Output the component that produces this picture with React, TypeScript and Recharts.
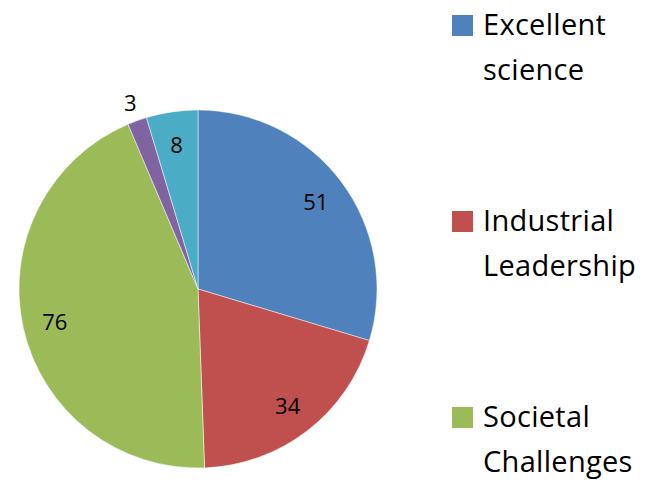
import React from "react";
import { PieChart, Pie, Cell, Legend } from "recharts";

const categories = [
  "Excellent science",
  "Industrial Leadership",
  "Societal Challenges",
  "Spreading excellence",
  "Science with society",
];
const values = [51, 34, 76, 3, 8];
const colors = ["#4F81BD", "#C0504D", "#9BBB59", "#8064A2", "#4BACC6"];

const data = categories.map((name, i) => ({ name, value: values[i] }));

const RADIAN = Math.PI / 180;
const FONT = "'Open Sans', Lato, sans-serif";

// data labels: inside the slice, small ones pushed outside like Excel does
const renderLabel = (props: any) => {
  const { cx, cy, midAngle, outerRadius, value } = props;
  const r = value < 5 ? outerRadius + 20 : outerRadius * 0.82;
  const x = cx + r * Math.cos(-midAngle * RADIAN);
  const y = cy + r * Math.sin(-midAngle * RADIAN);
  return (
    <text
      x={x}
      y={y}
      fill="#000"
      fontSize={22}
      fontFamily={FONT}
      textAnchor="middle"
      dominantBaseline="central"
    >
      {value}
    </text>
  );
};

// only the first three entries fit in the visible frame
const renderLegend = () => (
  <div style={{ fontFamily: FONT, fontSize: 29, color: "#000", letterSpacing: 0.3 }}>
    {data.slice(0, 3).map((d, i) => {
      const words = d.name.split(" ");
      return (
        <div
          key={d.name}
          style={{ position: "relative", height: 196, paddingLeft: 31 }}
        >
          <div
            style={{
              position: "absolute",
              left: 0,
              top: 15,
              width: 21,
              height: 21,
              background: colors[i],
            }}
          />
          <div style={{ lineHeight: "45px", paddingTop: 1 }}>
            <div>{words[0]}</div>
            <div>{words.slice(1).join(" ")}</div>
          </div>
        </div>
      );
    })}
  </div>
);

export default function App() {
  return (
    <div style={{ position: "absolute", left: 0, top: 0, width: 650, height: 480, overflow: "hidden", background: "#fff" }}>
      <PieChart width={650} height={480} margin={{ top: 0, right: 0, bottom: 0, left: 0 }}>
        <Pie
          data={data}
          dataKey="value"
          nameKey="name"
          cx={198}
          cy={289}
          outerRadius={179}
          startAngle={90}
          endAngle={-270}
          stroke="#fff"
          strokeWidth={0.5}
          label={renderLabel}
          labelLine={false}
          isAnimationActive={false}
        >
          {data.map((d, i) => (
            <Cell key={d.name} fill={colors[i]} />
          ))}
        </Pie>
        <Legend
          content={renderLegend}
          wrapperStyle={{ position: "absolute", left: 452, top: 0, width: 200 }}
        />
      </PieChart>
    </div>
  );
}
